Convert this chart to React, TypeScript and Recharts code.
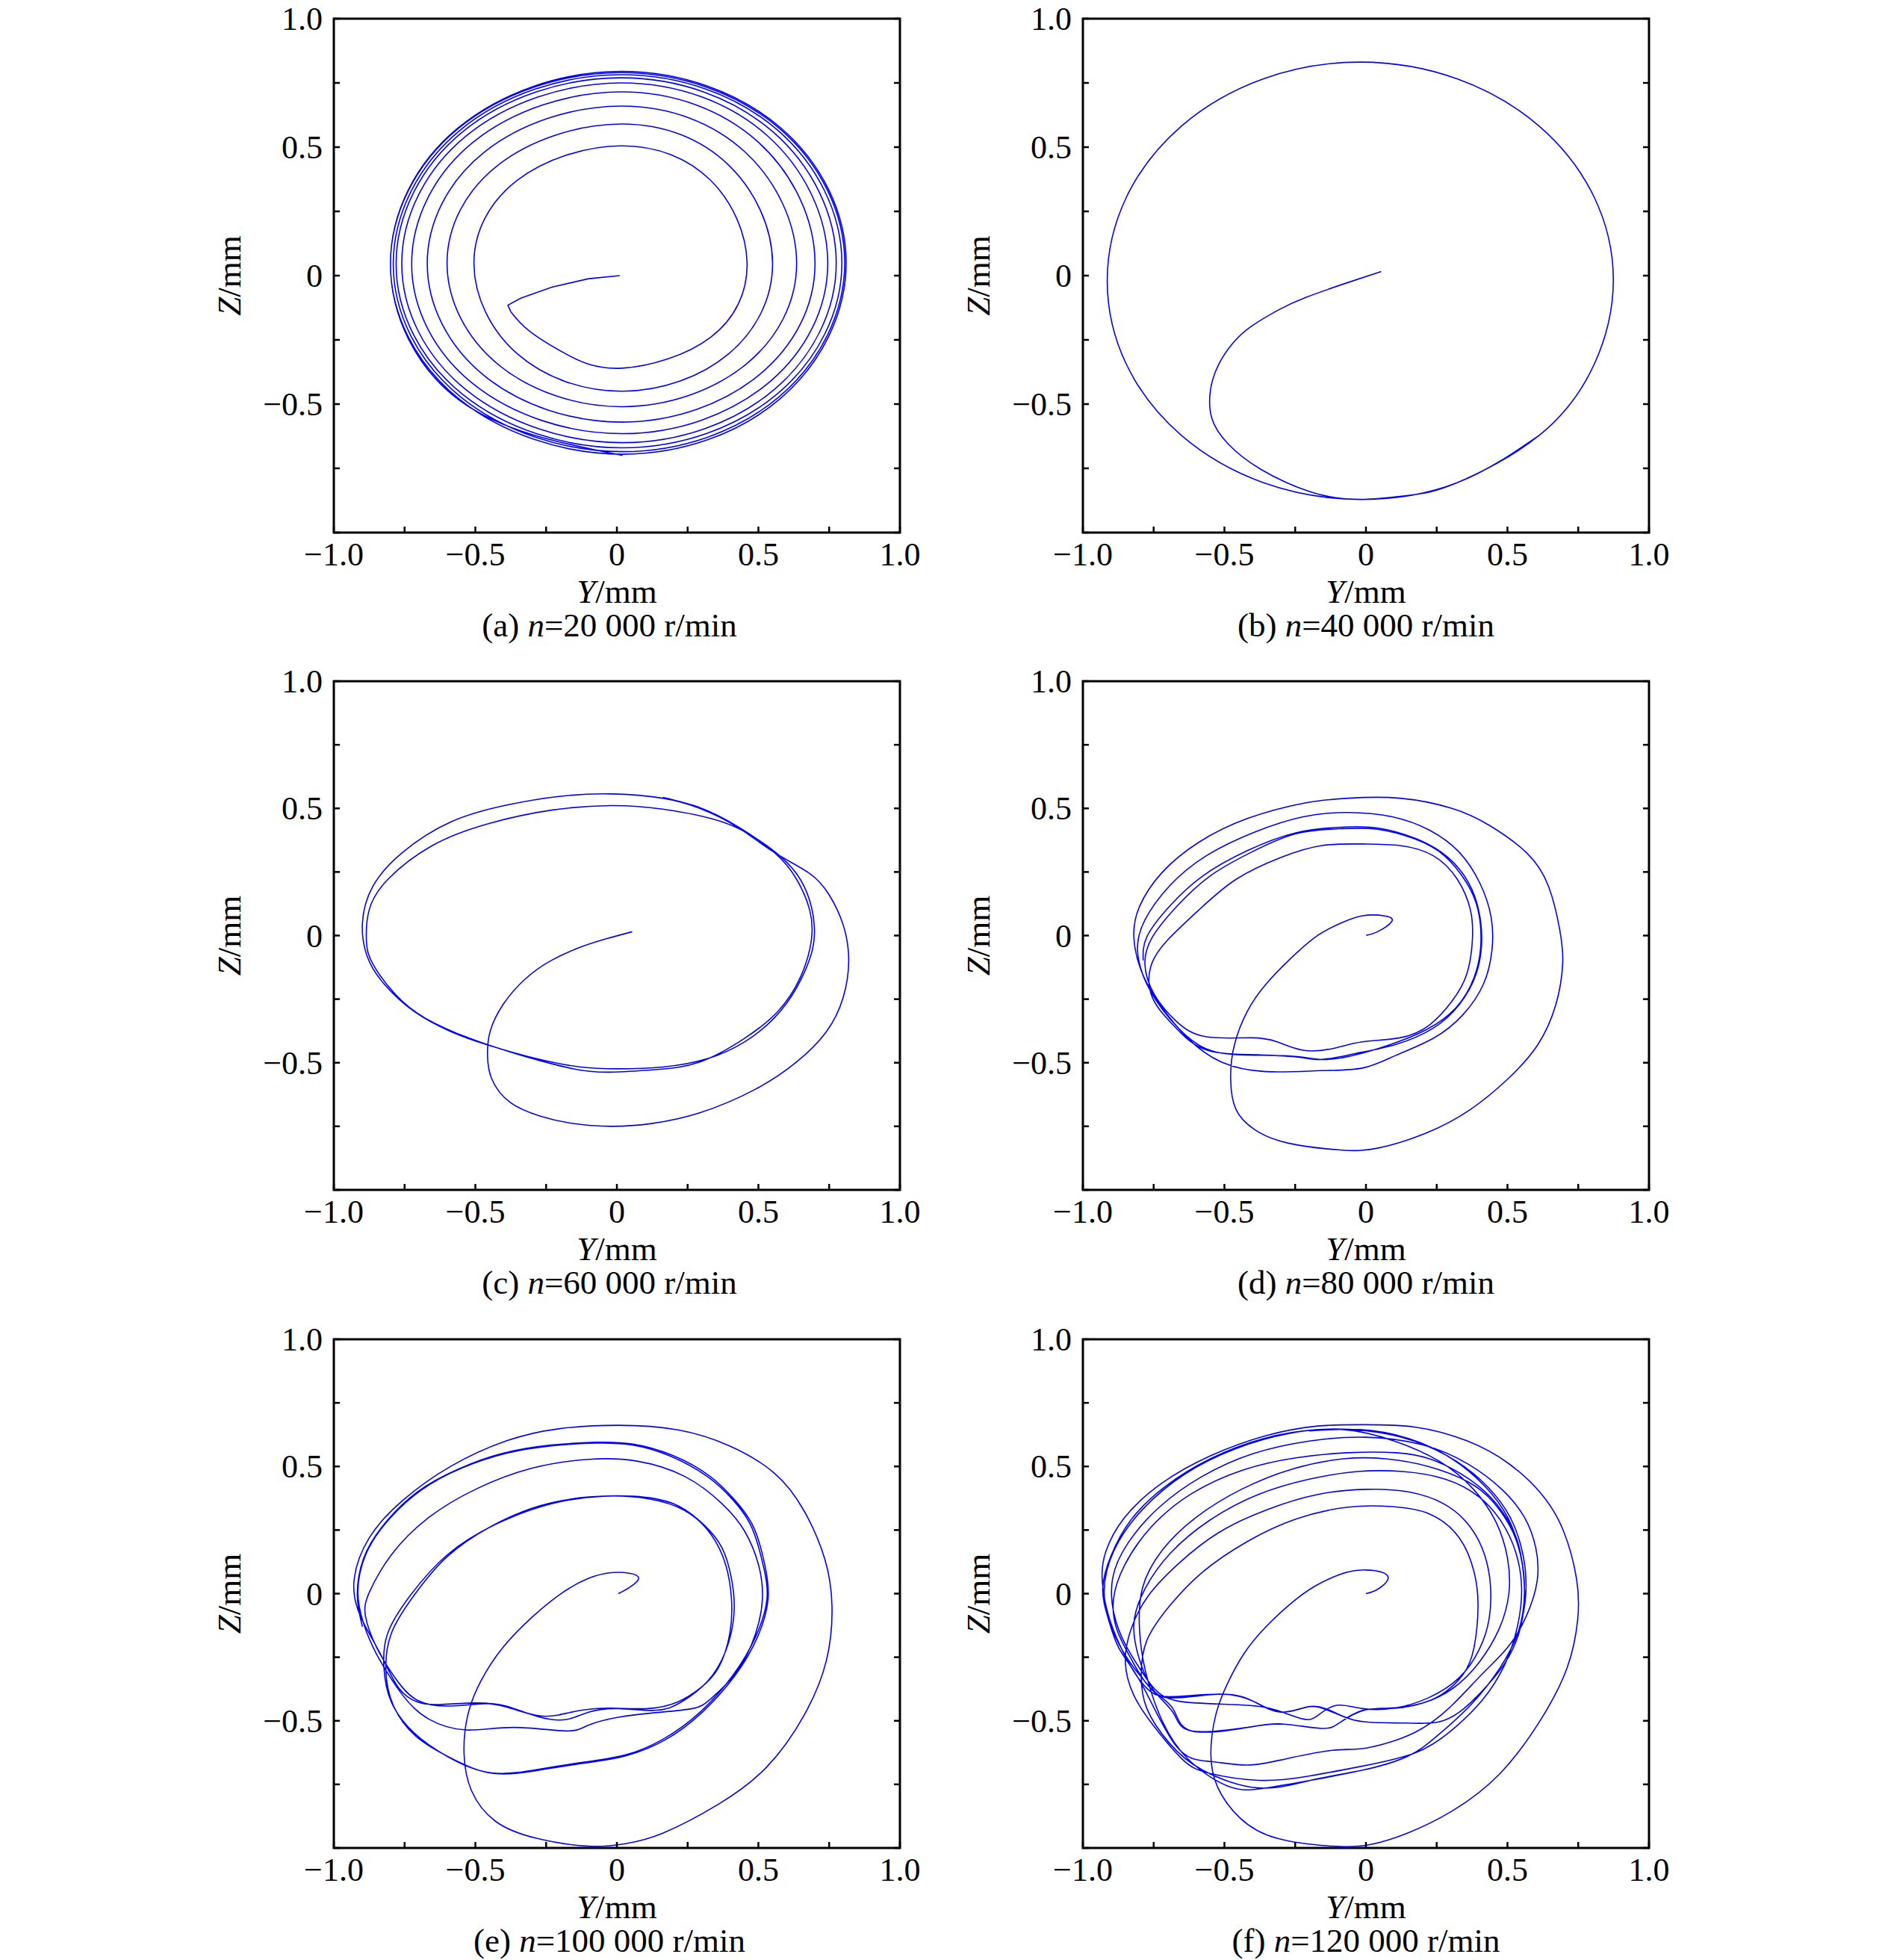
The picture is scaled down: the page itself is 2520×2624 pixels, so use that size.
import React from "react";
import { LineChart, Line, XAxis, YAxis, ReferenceArea } from "recharts";

// [Y, Z] pairs in mm
const startA = [
  [0.01, 0.0], [-0.1, -0.012], [-0.23, -0.045], [-0.34, -0.088], [-0.385, -0.115], [-0.375, -0.14],
];
const orbitA = [
  [-0.375, -0.14], [-0.31, -0.215], [-0.18, -0.305], [0.02, -0.36],
  [0.331, -0.24], [0.46, 0.05], [0.33, 0.372], [0.015, 0.505], [-0.353, 0.37], [-0.505, 0.045], [-0.351, -0.305],
  [0.02, -0.45], [0.395, -0.304], [0.55, 0.05], [0.393, 0.432], [0.015, 0.59], [-0.42, 0.43], [-0.6, 0.045], [-0.418, -0.347],
  [0.02, -0.51], [0.455, -0.346], [0.635, 0.05], [0.453, 0.481], [0.015, 0.66], [-0.469, 0.48], [-0.67, 0.045], [-0.468, -0.39],
  [0.02, -0.57], [0.501, -0.388], [0.7, 0.05], [0.499, 0.52], [0.015, 0.715], [-0.508, 0.519], [-0.725, 0.045], [-0.507, -0.422],
  [0.02, -0.615], [0.533, -0.42], [0.745, 0.05], [0.531, 0.545], [0.015, 0.75], [-0.533, 0.543], [-0.76, 0.045], [-0.531, -0.446],
  [0.02, -0.65], [0.554, -0.445], [0.775, 0.05], [0.552, 0.559], [0.015, 0.77], [-0.547, 0.558], [-0.78, 0.045], [-0.546, -0.461],
  [0.02, -0.67], [0.568, -0.459], [0.795, 0.05], [0.566, 0.568], [0.015, 0.782], [-0.554, 0.566], [-0.79, 0.045], [-0.553, -0.471],
  [0.02, -0.685], [0.575, -0.47], [0.805, 0.05], [0.574, 0.573], [0.015, 0.79], [-0.561, 0.572], [-0.8, 0.045], [-0.56, -0.478],
  [0.02, -0.695], [0.579, -0.477], [0.81, 0.05], [0.577, 0.577], [0.015, 0.795], [-0.561, 0.575], [-0.8, 0.045], [-0.56, -0.482],
  [0.02, -0.7],
];

const trajB = [
  [0.054, 0.016], [-0.067, -0.028], [-0.213, -0.085], [-0.31, -0.134], [-0.407, -0.199], [-0.471, -0.264],
  [-0.52, -0.345], [-0.549, -0.443], [-0.544, -0.557], [-0.487, -0.655], [-0.374, -0.752], [-0.194, -0.842],
  [-0.02, -0.871], [0.154, -0.855], [0.322, -0.806], [0.612, -0.622], [0.806, -0.346], [0.874, -0.02],
  [0.806, 0.306], [0.612, 0.582], [0.322, 0.766], [-0.02, 0.831], [-0.362, 0.766], [-0.652, 0.582],
  [-0.846, 0.306], [-0.914, -0.02], [-0.846, -0.346], [-0.652, -0.622], [-0.362, -0.806], [-0.02, -0.871],
  [0.322, -0.806], [0.612, -0.622],
];

const trajC = [
  [0.054, 0.015], [-0.035, -0.012], [-0.127, -0.045], [-0.232, -0.098], [-0.324, -0.171], [-0.402, -0.271],
  [-0.448, -0.378], [-0.457, -0.471], [-0.442, -0.564], [-0.376, -0.657], [-0.271, -0.71], [-0.166, -0.737],
  [-0.022, -0.75], [0.123, -0.739], [0.293, -0.697], [0.49, -0.604], [0.635, -0.497], [0.74, -0.378],
  [0.799, -0.245], [0.819, -0.1], [0.8, 0.04], [0.75, 0.16], [0.68, 0.245],
  [0.556, 0.327], [0.425, 0.427], [0.293, 0.5], [0.162, 0.54], [-0.022, 0.557], [-0.205, 0.547],
  [-0.389, 0.513], [-0.586, 0.447], [-0.757, 0.327], [-0.862, 0.194], [-0.899, 0.048], [-0.881, -0.085],
  [-0.822, -0.191], [-0.717, -0.298], [-0.586, -0.378], [-0.454, -0.431], [-0.284, -0.484], [-0.127, -0.517],
  [0.005, -0.524], [0.162, -0.517], [0.32, -0.484], [0.451, -0.418], [0.556, -0.324], [0.635, -0.205],
  [0.687, -0.072], [0.698, 0.021], [0.687, 0.114], [0.648, 0.221], [0.582, 0.307], [0.503, 0.374],
  [0.372, 0.447], [0.162, 0.497], [-0.022, 0.511], [-0.232, 0.493], [-0.454, 0.44], [-0.652, 0.354],
  [-0.809, 0.221], [-0.875, 0.101], [-0.885, -0.019], [-0.862, -0.112], [-0.783, -0.231], [-0.678, -0.324],
  [-0.52, -0.404], [-0.337, -0.471], [-0.153, -0.524], [-0.022, -0.537], [0.136, -0.527], [0.293, -0.497],
  [0.451, -0.404], [0.569, -0.298], [0.648, -0.165], [0.687, -0.019], [0.681, 0.101], [0.635, 0.221],
  [0.556, 0.327], [0.425, 0.43], [0.293, 0.503], [0.162, 0.543],
];

const trajD = [
  [0.001, 0.001], [0.041, 0.015], [0.091, 0.055], [0.067, 0.077], [-0.012, 0.078], [-0.091, 0.048],
  [-0.17, 0.001], [-0.261, -0.085], [-0.353, -0.191], [-0.419, -0.298], [-0.465, -0.431], [-0.478, -0.564],
  [-0.459, -0.684], [-0.393, -0.763], [-0.275, -0.816], [-0.091, -0.843], [0.041, -0.836], [0.212, -0.777],
  [0.369, -0.684], [0.501, -0.564], [0.606, -0.431], [0.671, -0.271], [0.695, -0.112], [0.685, 0.021],
  [0.645, 0.194], [0.566, 0.327], [0.435, 0.434], [0.304, 0.5], [0.12, 0.54], [-0.064, 0.54],
  [-0.222, 0.52], [-0.419, 0.46], [-0.59, 0.367], [-0.721, 0.247], [-0.8, 0.114], [-0.82, -0.005],
  [-0.794, -0.138], [-0.728, -0.271], [-0.629, -0.404], [-0.511, -0.497], [-0.353, -0.535], [-0.156, -0.531],
  [-0.012, -0.521], [0.106, -0.471], [0.238, -0.404], [0.343, -0.311], [0.415, -0.191], [0.445, -0.059],
  [0.442, 0.074], [0.402, 0.207], [0.33, 0.327], [0.225, 0.414], [0.093, 0.467], [-0.064, 0.484],
  [-0.222, 0.467], [-0.393, 0.407], [-0.564, 0.314], [-0.695, 0.194], [-0.781, 0.061], [-0.807, -0.059],
  [-0.774, -0.191], [-0.695, -0.324], [-0.59, -0.431], [-0.459, -0.468], [-0.275, -0.473], [-0.156, -0.487],
  [-0.051, -0.473], [0.08, -0.431], [0.212, -0.371], [0.317, -0.285], [0.382, -0.165], [0.406, -0.032],
  [0.396, 0.101], [0.356, 0.207], [0.277, 0.314], [0.172, 0.38], [0.041, 0.418], [-0.091, 0.42],
  [-0.248, 0.4], [-0.406, 0.327], [-0.551, 0.234], [-0.669, 0.114], [-0.754, -0.005], [-0.781, -0.112],
  [-0.748, -0.231], [-0.669, -0.338], [-0.564, -0.398], [-0.406, -0.402], [-0.314, -0.418], [-0.222, -0.451],
  [-0.117, -0.444], [-0.012, -0.418], [0.12, -0.402], [0.225, -0.351], [0.304, -0.258], [0.356, -0.152],
  [0.376, -0.019], [0.369, 0.101], [0.323, 0.221], [0.238, 0.314], [0.12, 0.354], [-0.012, 0.36],
  [-0.156, 0.354], [-0.301, 0.307], [-0.459, 0.221], [-0.59, 0.101], [-0.702, -0.019], [-0.761, -0.125],
  [-0.754, -0.245], [-0.682, -0.351], [-0.577, -0.444], [-0.419, -0.468], [-0.248, -0.477], [-0.156, -0.487],
  [-0.038, -0.464], [0.106, -0.428], [0.238, -0.364], [0.33, -0.271], [0.389, -0.152], [0.409, -0.019],
  [0.398, 0.101], [0.363, 0.207], [0.29, 0.307], [0.179, 0.38], [0.041, 0.423], [-0.091, 0.426],
  [-0.248, 0.404], [-0.419, 0.334], [-0.577, 0.234], [-0.695, 0.114], [-0.774, -0.005], [-0.787, -0.098],
];

const trajE = [
  [0.005, 0.0], [0.044, 0.024], [0.077, 0.06], [0.044, 0.08], [-0.022, 0.082], [-0.1, 0.06],
  [-0.192, 0.004], [-0.297, -0.09], [-0.402, -0.211], [-0.481, -0.345], [-0.527, -0.479], [-0.54, -0.627],
  [-0.514, -0.774], [-0.429, -0.895], [-0.284, -0.962], [-0.1, -0.993], [0.031, -0.983], [0.162, -0.942],
  [0.359, -0.828], [0.53, -0.681], [0.661, -0.479], [0.74, -0.264], [0.76, -0.05], [0.734, 0.138],
  [0.661, 0.326], [0.556, 0.474], [0.398, 0.581], [0.215, 0.644], [0.005, 0.662], [-0.206, 0.648],
  [-0.389, 0.601], [-0.586, 0.501], [-0.757, 0.366], [-0.875, 0.219], [-0.928, 0.058], [-0.915, -0.063],
  [-0.875, -0.157], [-0.823, -0.264], [-0.77, -0.372], [-0.705, -0.426], [-0.626, -0.436], [-0.494, -0.43],
  [-0.389, -0.446], [-0.284, -0.479], [-0.206, -0.477], [-0.127, -0.459], [-0.022, -0.45], [0.11, -0.452],
  [0.215, -0.426], [0.294, -0.372], [0.359, -0.291], [0.399, -0.157], [0.405, -0.023], [0.385, 0.111],
  [0.333, 0.232], [0.241, 0.326], [0.11, 0.373], [-0.048, 0.383], [-0.232, 0.353], [-0.429, 0.272],
  [-0.6, 0.152], [-0.731, -0.009], [-0.81, -0.157], [-0.823, -0.291], [-0.797, -0.426], [-0.718, -0.546],
  [-0.6, -0.64], [-0.442, -0.705], [-0.258, -0.687], [-0.1, -0.66], [0.031, -0.634], [0.162, -0.573],
  [0.294, -0.466], [0.412, -0.318], [0.49, -0.17], [0.53, -0.023], [0.517, 0.111], [0.477, 0.259],
  [0.412, 0.366], [0.32, 0.46], [0.188, 0.541], [0.057, 0.584], [-0.074, 0.592], [-0.232, 0.581],
  [-0.389, 0.552], [-0.547, 0.494], [-0.691, 0.407], [-0.81, 0.286], [-0.888, 0.152], [-0.915, 0.004],
  [-0.895, -0.117], [-0.849, -0.238], [-0.757, -0.399], [-0.665, -0.493], [-0.534, -0.536], [-0.363, -0.526],
  [-0.179, -0.54], [-0.1, -0.517], [0.005, -0.486], [0.136, -0.468], [0.267, -0.452], [0.333, -0.412],
  [0.425, -0.305], [0.49, -0.157], [0.514, -0.023], [0.501, 0.111], [0.451, 0.246], [0.372, 0.353],
  [0.241, 0.46], [0.071, 0.521], [-0.1, 0.528], [-0.297, 0.494], [-0.494, 0.413], [-0.665, 0.299],
  [-0.797, 0.152], [-0.875, 0.004], [-0.888, -0.09], [-0.849, -0.211], [-0.783, -0.332], [-0.705, -0.419],
  [-0.586, -0.442], [-0.455, -0.432], [-0.363, -0.452], [-0.271, -0.486], [-0.179, -0.495], [-0.1, -0.466],
  [0.005, -0.452], [0.136, -0.459], [0.228, -0.426], [0.32, -0.345], [0.385, -0.224], [0.414, -0.077],
  [0.405, 0.058], [0.372, 0.179], [0.306, 0.272], [0.201, 0.353], [0.057, 0.383], [-0.1, 0.38],
  [-0.271, 0.346], [-0.442, 0.266], [-0.6, 0.145], [-0.718, -0.009], [-0.797, -0.157], [-0.816, -0.305],
  [-0.79, -0.439], [-0.711, -0.56], [-0.586, -0.647], [-0.435, -0.707], [-0.258, -0.691], [-0.1, -0.664],
  [0.031, -0.638], [0.169, -0.576], [0.3, -0.468], [0.418, -0.321], [0.497, -0.17], [0.534, -0.023],
  [0.523, 0.111], [0.484, 0.259], [0.418, 0.366], [0.327, 0.463], [0.196, 0.544], [0.057, 0.588],
  [-0.074, 0.595], [-0.232, 0.584], [-0.402, 0.552], [-0.56, 0.49], [-0.705, 0.4], [-0.823, 0.272],
  [-0.895, 0.138], [-0.917, -0.009], [-0.899, -0.13],
];

const trajF = [
  [0.0, 0.0], [0.041, 0.017], [0.078, 0.058], [0.054, 0.085], [0.001, 0.093], [-0.064, 0.085],
  [-0.156, 0.044], [-0.248, -0.023], [-0.353, -0.13], [-0.432, -0.238], [-0.491, -0.358], [-0.531, -0.479],
  [-0.548, -0.627], [-0.524, -0.761], [-0.445, -0.882], [-0.314, -0.962], [-0.117, -0.993], [0.014, -0.987],
  [0.146, -0.942], [0.304, -0.855], [0.474, -0.707], [0.619, -0.493], [0.711, -0.291], [0.748, -0.103],
  [0.744, 0.058], [0.698, 0.246], [0.619, 0.393], [0.501, 0.514], [0.356, 0.601], [0.172, 0.655],
  [-0.012, 0.664], [-0.17, 0.659], [-0.353, 0.621], [-0.551, 0.541], [-0.721, 0.434], [-0.853, 0.299],
  [-0.919, 0.165], [-0.932, 0.058], [-0.912, -0.077], [-0.866, -0.211], [-0.813, -0.318], [-0.761, -0.385],
  [-0.682, -0.405], [-0.511, -0.395], [-0.393, -0.426], [-0.301, -0.466], [-0.209, -0.446], [-0.143, -0.452],
  [-0.064, -0.49], [0.014, -0.506], [0.146, -0.509], [0.251, -0.506], [0.33, -0.466], [0.409, -0.385],
  [0.488, -0.278], [0.54, -0.157], [0.56, -0.023], [0.553, 0.111], [0.527, 0.232], [0.461, 0.353],
  [0.369, 0.447], [0.238, 0.525], [0.106, 0.554], [-0.064, 0.554], [-0.248, 0.534], [-0.432, 0.487],
  [-0.616, 0.393], [-0.761, 0.259], [-0.853, 0.111], [-0.892, -0.023], [-0.879, -0.144], [-0.826, -0.264],
  [-0.761, -0.372], [-0.682, -0.452], [-0.616, -0.54], [-0.419, -0.526], [-0.288, -0.513], [-0.156, -0.53],
  [-0.091, -0.506], [-0.012, -0.459], [0.08, -0.452], [0.172, -0.439], [0.264, -0.399], [0.343, -0.318],
  [0.382, -0.211], [0.396, -0.05], [0.382, 0.085], [0.33, 0.219], [0.225, 0.313], [0.093, 0.342],
  [-0.064, 0.34], [-0.248, 0.293], [-0.419, 0.205], [-0.577, 0.085], [-0.695, -0.05], [-0.774, -0.184],
  [-0.794, -0.318], [-0.774, -0.452], [-0.695, -0.587], [-0.577, -0.694], [-0.38, -0.764], [-0.196, -0.734],
  [-0.012, -0.694], [0.146, -0.64], [0.251, -0.56], [0.369, -0.439], [0.474, -0.291], [0.54, -0.144],
  [0.565, 0.004], [0.555, 0.152], [0.51, 0.299], [0.43, 0.42], [0.32, 0.52], [0.17, 0.6],
  [0.0, 0.64], [-0.17, 0.645], [-0.36, 0.61], [-0.55, 0.53], [-0.71, 0.42], [-0.83, 0.29],
  [-0.9, 0.15], [-0.93, 0.02], [-0.91, -0.1], [-0.87, -0.22], [-0.79, -0.36], [-0.67, -0.6],
  [-0.55, -0.66], [-0.42, -0.674], [-0.288, -0.651], [-0.117, -0.616], [0.001, -0.607], [0.172, -0.546],
  [0.304, -0.439], [0.409, -0.318], [0.501, -0.211], [0.566, -0.09], [0.605, 0.05], [0.6, 0.18],
  [0.56, 0.3], [0.48, 0.41], [0.36, 0.51], [0.2, 0.585], [0.0, 0.615], [-0.2, 0.6],
  [-0.4, 0.55], [-0.58, 0.46], [-0.73, 0.34], [-0.84, 0.2], [-0.895, 0.06], [-0.89, -0.08],
  [-0.85, -0.2], [-0.79, -0.31], [-0.72, -0.4], [-0.6, -0.43], [-0.419, -0.439], [-0.314, -0.459],
  [-0.222, -0.493], [-0.17, -0.479], [-0.104, -0.439], [-0.012, -0.452], [0.1, -0.45], [0.22, -0.41],
  [0.33, -0.33], [0.4, -0.22], [0.435, -0.1], [0.44, 0.03], [0.42, 0.15], [0.37, 0.26],
  [0.28, 0.35], [0.15, 0.4], [0.0, 0.41], [-0.17, 0.39], [-0.35, 0.33], [-0.52, 0.24],
  [-0.66, 0.12], [-0.77, -0.01], [-0.83, -0.14], [-0.85, -0.27], [-0.82, -0.4], [-0.75, -0.52],
  [-0.65, -0.65], [-0.551, -0.707], [-0.38, -0.734], [-0.222, -0.721], [-0.025, -0.681], [0.172, -0.627],
  [0.3, -0.54], [0.41, -0.42], [0.49, -0.28], [0.535, -0.13], [0.55, 0.02], [0.53, 0.16],
  [0.48, 0.28], [0.4, 0.38], [0.28, 0.45], [0.13, 0.48], [-0.03, 0.48], [-0.2, 0.45],
  [-0.38, 0.39], [-0.55, 0.29], [-0.69, 0.16], [-0.78, 0.02], [-0.82, -0.12], [-0.8, -0.26],
  [-0.75, -0.38], [-0.68, -0.47], [-0.616, -0.54], [-0.419, -0.526], [-0.288, -0.513], [-0.156, -0.53],
  [-0.091, -0.506], [-0.012, -0.46], [0.08, -0.45], [0.2, -0.43], [0.31, -0.37], [0.4, -0.27],
  [0.47, -0.14], [0.505, 0.0], [0.5, 0.14], [0.46, 0.28], [0.38, 0.41], [0.26, 0.52],
  [0.1, 0.6], [-0.08, 0.645], [-0.27, 0.63], [-0.46, 0.57], [-0.64, 0.47], [-0.79, 0.33],
  [-0.89, 0.17], [-0.925, 0.01], [-0.9, -0.13], [-0.84, -0.26], [-0.77, -0.36], [-0.69, -0.41],
  [-0.511, -0.395], [-0.393, -0.426], [-0.301, -0.466], [-0.209, -0.446], [-0.143, -0.455], [-0.064, -0.49],
  [0.014, -0.506], [0.146, -0.509], [0.251, -0.506], [0.33, -0.466], [0.409, -0.385], [0.488, -0.278],
  [0.54, -0.157], [0.56, -0.023], [0.553, 0.111], [0.52, 0.24], [0.45, 0.36], [0.36, 0.44],
  [0.22, 0.5], [0.07, 0.53], [-0.08, 0.53], [-0.26, 0.49], [-0.44, 0.41], [-0.6, 0.3],
  [-0.72, 0.17], [-0.79, 0.02], [-0.8, -0.14], [-0.78, -0.3], [-0.72, -0.5], [-0.62, -0.66],
  [-0.48, -0.76], [-0.36, -0.765], [-0.196, -0.734], [-0.012, -0.694], [0.146, -0.64], [0.251, -0.56],
  [0.369, -0.439], [0.474, -0.291], [0.54, -0.144], [0.56, 0.004], [0.547, 0.152], [0.501, 0.299],
  [0.422, 0.42], [0.304, 0.53], [0.15, 0.61], [-0.02, 0.645], [-0.2, 0.64],
];

const axisTicks = [-1, -0.75, -0.5, -0.25, 0, 0.25, 0.5, 0.75, 1];
const xTickText = { "-1": "\u22121.0", "-0.5": "\u22120.5", "0": "0", "0.5": "0.5", "1": "1.0" };
const yTickText = { "-0.5": "\u22120.5", "0": "0", "0.5": "0.5", "1": "1.0" };

const panels = [
  { tag: "(a)", speed: "20 000", left: 447, top: 25, h: 688, shift: -10, segs: [{ pts: startA, type: "linear" }, { pts: orbitA, type: "natural" }] },
  { tag: "(b)", speed: "40 000", left: 1450, top: 25, h: 688, shift: 0, segs: [{ pts: trajB, type: "natural" }] },
  { tag: "(c)", speed: "60 000", left: 447, top: 912, h: 681, shift: -10, segs: [{ pts: trajC, type: "natural" }] },
  { tag: "(d)", speed: "80 000", left: 1450, top: 912, h: 681, shift: 0, segs: [{ pts: trajD, type: "natural" }] },
  { tag: "(e)", speed: "100 000", left: 447, top: 1793, h: 681, shift: -10, segs: [{ pts: trajE, type: "natural" }] },
  { tag: "(f)", speed: "120 000", left: 1450, top: 1793, h: 681, shift: 0, segs: [{ pts: trajF, type: "natural" }] },
];

const PW = 758;
const AXW = 200;
const AXH = 170;
const MT = 30;
const MR = 40;
const FONT = "'Liberation Serif', 'Times New Roman', serif";

function XTick({ x, y, payload }) {
  const label = xTickText[String(payload.value)];
  return (
    <g>
      <line x1={x} x2={x} y1={y} y2={y - 8} stroke="#000" strokeWidth={2.5} />
      {label && (
        <text x={x} y={y + 44} textAnchor="middle" fontFamily={FONT} fontSize={44} fill="#000">
          {label}
        </text>
      )}
    </g>
  );
}

function YTick({ x, y, payload }) {
  const label = yTickText[String(payload.value)];
  return (
    <g>
      <line x1={x} x2={x + 8} y1={y} y2={y} stroke="#000" strokeWidth={2.5} />
      <line x1={x + PW} x2={x + PW - 8} y1={y} y2={y} stroke="#000" strokeWidth={2.5} />
      {label && (
        <text x={x - 15} y={y + 15} textAnchor="end" fontFamily={FONT} fontSize={44} fill="#000">
          {label}
        </text>
      )}
    </g>
  );
}

function Panel({ p }) {
  const width = AXW + PW + MR;
  const height = MT + p.h + AXH;
  return (
    <div style={{ position: "absolute", left: p.left - AXW, top: p.top - MT }}>
      <LineChart width={width} height={height} margin={{ top: MT, right: MR, left: 0, bottom: 0 }}>
        <XAxis
          type="number"
          dataKey="y"
          domain={[-1, 1]}
          ticks={axisTicks}
          interval={0}
          allowDataOverflow
          axisLine={false}
          tickLine={false}
          tickSize={0}
          tickMargin={0}
          height={AXH}
          tick={XTick}
          label={{
            content: ({ viewBox }) => {
              const cx = viewBox.x + viewBox.width / 2;
              return (
                <g fontFamily={FONT} fontSize={45} fill="#000">
                  <text x={cx} y={viewBox.y + 94} textAnchor="middle">
                    <tspan fontStyle="italic">Y</tspan>/mm
                  </text>
                  <text x={cx + p.shift} y={viewBox.y + 139} textAnchor="middle">
                    {p.tag} <tspan fontStyle="italic">n</tspan>={p.speed} r/min
                  </text>
                </g>
              );
            },
          }}
        />
        <YAxis
          type="number"
          dataKey="z"
          domain={[-1, 1]}
          ticks={axisTicks}
          interval={0}
          allowDataOverflow
          axisLine={false}
          tickLine={false}
          tickSize={0}
          tickMargin={0}
          width={AXW}
          tick={YTick}
          label={{
            content: ({ viewBox }) => {
              const cx = viewBox.x + viewBox.width - 140;
              const cy = viewBox.y + viewBox.height / 2;
              return (
                <text
                  x={cx}
                  y={cy}
                  dy={15}
                  transform={`rotate(-90, ${cx}, ${cy})`}
                  textAnchor="middle"
                  fontFamily={FONT}
                  fontSize={45}
                  fill="#000"
                >
                  <tspan fontStyle="italic">Z</tspan>/mm
                </text>
              );
            },
          }}
        />
        <ReferenceArea x1={-1} x2={1} y1={-1} y2={1} fill="none" fillOpacity={0} stroke="#000" strokeWidth={3} />
        {p.segs.map((s, i) => (
          <Line
            key={i}
            data={s.pts.map(([y, z]) => ({ y, z }))}
            dataKey="z"
            type={s.type}
            stroke="#0000ff"
            strokeWidth={1.6}
            dot={false}
            activeDot={false}
            isAnimationActive={false}
          />
        ))}
      </LineChart>
    </div>
  );
}

export default function App() {
  return (
    <div style={{ position: "absolute", left: 0, top: 0, width: 2520, height: 2624, background: "#fff" }}>
      {panels.map((p) => (
        <Panel key={p.tag} p={p} />
      ))}
    </div>
  );
}
